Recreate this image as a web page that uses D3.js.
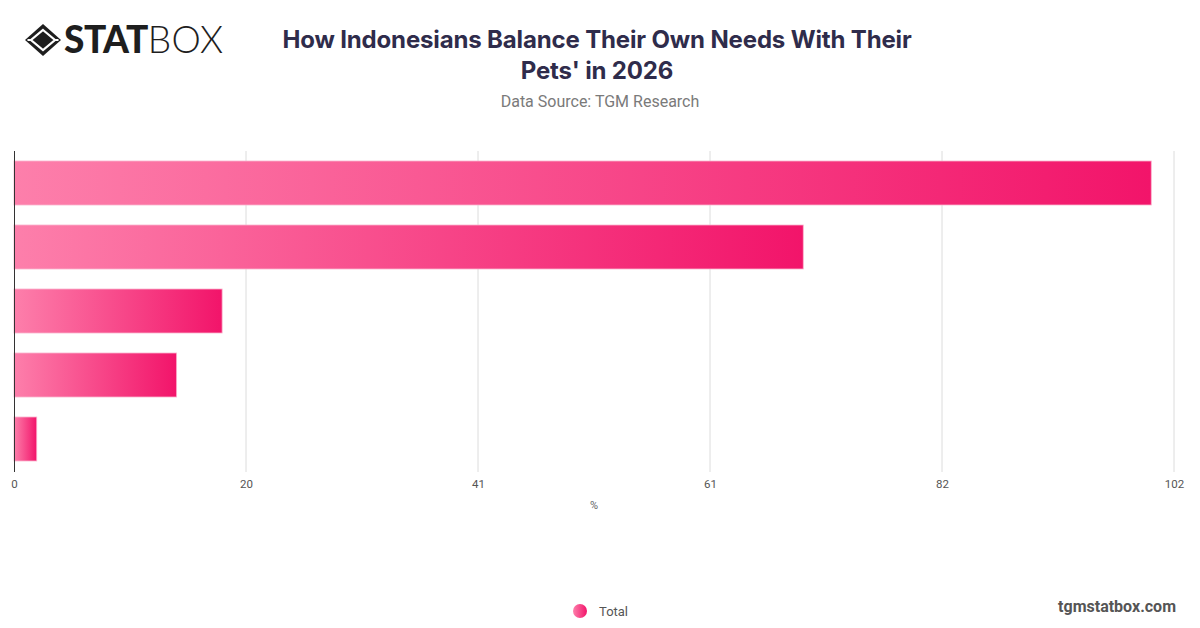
<!DOCTYPE html>
<html>
<head>
<meta charset="utf-8">
<script src="https://cdn.jsdelivr.net/npm/d3@7"></script>
<style>
  html, body { margin: 0; padding: 0; background: #fff; }
  svg { display: block; }
</style>
</head>
<body>
<svg id="chart" width="1200" height="628"></svg>
<script>
// ---- data ----
const categories = ["Category 1", "Category 2", "Category 3", "Category 4", "Category 5"];
const values = [100, 69.4, 18.3, 14.3, 2.0];
const seriesName = "Total";
const xMax = 102;
const tickValues = [0, 20.4, 40.8, 61.2, 81.6, 102];
const titleLines = ["How Indonesians Balance Their Own Needs With Their", "Pets' in 2026"];
const subtitle = "Data Source: TGM Research";
const axisTitle = "%";
const siteLabel = "tgmstatbox.com";

const svg = d3.select("#chart");
const W = 1200, H = 628;
const margin = { left: 14, right: 26, top: 151, bottom: 157 };
const plotW = W - margin.left - margin.right;
const plotH = H - margin.top - margin.bottom;

// gradients
const defs = svg.append("defs");
const grad = defs.append("linearGradient").attr("id", "barGrad")
  .attr("x1", "0%").attr("x2", "100%").attr("y1", "0%").attr("y2", "0%");
grad.append("stop").attr("offset", "0%").attr("stop-color", "#fd7fab");
grad.append("stop").attr("offset", "100%").attr("stop-color", "#f2146a");

// ---- logo ----
const logo = svg.append("g");
logo.append("path")
  .attr("d", "M43,24 L61,40 L43,56 L25,40 Z")
  .attr("fill", "#1e1e1e");
logo.append("path")
  .attr("d", "M43,30 L55,40 L43,50 L31,40 Z")
  .attr("fill", "none").attr("stroke", "#fff").attr("stroke-width", 2.2);
logo.append("path")
  .attr("d", "M27.5,40 L31,40 M55,40 L58.5,40")
  .attr("stroke", "#fff").attr("stroke-width", 2);
logo.append("text")
  .attr("x", 64).attr("y", 53)
  .attr("font-family", "Lato, Roboto, sans-serif")
  .attr("font-size", 37).attr("font-weight", 900).attr("fill", "#1e1e1e")
  .attr("letter-spacing", -0.5)
  .text("STAT")
  .append("tspan").attr("font-weight", 300).attr("letter-spacing", 0.3).text("BOX");

// ---- title ----
const title = svg.append("text")
  .attr("text-anchor", "middle")
  .attr("font-family", "Inter, 'Noto Sans', sans-serif")
  .attr("font-size", 24).attr("font-weight", 700).attr("fill", "#2f2c4b")
  .attr("letter-spacing", -0.15);
titleLines.forEach((t, i) => {
  title.append("tspan").attr("x", 597).attr("y", 48 + i * 31).text(t);
});
svg.append("text")
  .attr("x", 600).attr("y", 107).attr("text-anchor", "middle")
  .attr("font-family", "Roboto, 'Noto Sans', sans-serif")
  .attr("font-size", 16).attr("fill", "#7a7a7a")
  .text(subtitle);

// ---- scales ----
const x = d3.scaleLinear().domain([0, xMax]).range([0, plotW]);
const y = d3.scaleBand().domain(categories).range([0, plotH])
  .paddingInner(0.3125).paddingOuter(0.15625);

const g = svg.append("g").attr("transform", `translate(${margin.left},${margin.top})`);

// gridlines
g.append("g").selectAll("line").data(tickValues.slice(1)).join("line")
  .attr("x1", d => x(d)).attr("x2", d => x(d))
  .attr("y1", 0).attr("y2", plotH + 1)
  .attr("stroke", "#dcdcdc").attr("stroke-width", 1);

// bars
g.append("g").selectAll("rect").data(values).join("rect")
  .attr("x", x(0))
  .attr("y", (d, i) => y(categories[i]))
  .attr("width", d => x(d) - x(0))
  .attr("height", y.bandwidth())
  .attr("fill", "url(#barGrad)")
  .attr("stroke", "#fbb3cd").attr("stroke-width", 0.8);

// axis line (left)
g.append("line")
  .attr("x1", 0.5).attr("x2", 0.5).attr("y1", 0).attr("y2", plotH + 1)
  .attr("stroke", "#333").attr("stroke-width", 1);

// x axis
const xAxis = d3.axisBottom(x).tickValues(tickValues)
  .tickFormat(d3.format(".0f")).tickSize(0).tickPadding(9);
const ax = g.append("g").attr("transform", `translate(0,${plotH})`).call(xAxis);
ax.select(".domain").remove();
ax.selectAll("text")
  .attr("font-family", "Roboto, 'Noto Sans', sans-serif")
  .attr("font-size", 11.5).attr("fill", "#555");

svg.append("text")
  .attr("x", margin.left + plotW / 2).attr("y", 509).attr("text-anchor", "middle")
  .attr("font-family", "Roboto, 'Noto Sans', sans-serif")
  .attr("font-size", 11).attr("fill", "#666")
  .text(axisTitle);

// legend
const lg = svg.append("g");
lg.append("circle").attr("cx", 580).attr("cy", 611).attr("r", 7).attr("fill", "url(#barGrad)");
lg.append("text").attr("x", 599).attr("y", 616)
  .attr("font-family", "Roboto, 'Noto Sans', sans-serif")
  .attr("font-size", 13).attr("fill", "#555")
  .text(seriesName);

// site label
svg.append("text")
  .attr("x", 1176).attr("y", 612).attr("text-anchor", "end")
  .attr("font-family", "Roboto, 'Noto Sans', sans-serif")
  .attr("font-size", 16).attr("font-weight", 700).attr("fill", "#555")
  .text(siteLabel);
</script>
</body>
</html>
